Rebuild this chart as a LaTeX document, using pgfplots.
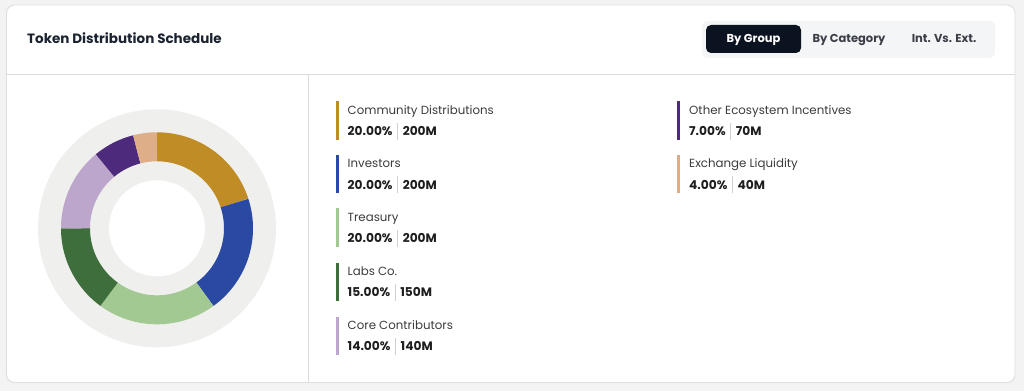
\documentclass[border=0pt]{standalone}
\usepackage{pgfplots}
\usepackage{pgfplotstable}
\pgfplotsset{compat=1.18}
\usepackage{fontspec}
\setmainfont{Poppins}

\definecolor{cgold}{HTML}{BF8C26}
\definecolor{cblue}{HTML}{2A49A3}
\definecolor{clgreen}{HTML}{A3C992}
\definecolor{cdgreen}{HTML}{3D6E3B}
\definecolor{clav}{HTML}{BCA6CB}
\definecolor{cpurple}{HTML}{4E2A7C}
\definecolor{ctan}{HTML}{DDAE87}
\definecolor{cring}{HTML}{EFEFED}
\definecolor{cbg}{HTML}{F3F3F3}
\definecolor{cborder}{HTML}{DEDEDE}
\definecolor{cline}{HTML}{DCDCDC}
\definecolor{ctitle}{HTML}{1B2330}
\definecolor{cname}{HTML}{3C3C3C}
\definecolor{cval}{HTML}{1E1E1E}
\definecolor{ctabbg}{HTML}{F4F5F6}
\definecolor{ctabsel}{HTML}{0B1320}
\definecolor{ctabtxt}{HTML}{3A3F47}
\definecolor{csep}{HTML}{D0D0D0}

\pgfplotstableread{
value col
20 cgold
20 cblue
20 clgreen
15 cdgreen
14 clav
7 cpurple
4 ctan
}\donutdata

\newcommand\legendentry[6]{% x, ypx, color, name, pct, amount
  \fill[#3] (#1-1.5,391-#2+8.5) rectangle (#1+1.5,391-#2-30);
  \node[anchor=base west,inner sep=0pt,text=cname,font=\fontsize{11.8}{13}\selectfont] at (#1+10.5,391-#2-4.2) {#4};
  \node[anchor=base west,inner sep=0pt,text=cval,font=\fontsize{12.2}{14}\selectfont\bfseries] at (#1+10.5,391-#2-21.5-4.4)
    {#5\hspace{4.5pt}\textcolor{csep}{\rule[-4pt]{0.7pt}{17pt}}\hspace{5pt}#6};
}

\begin{document}
\begin{tikzpicture}[x=1pt,y=1pt]
\path[use as bounding box] (0,0) rectangle (1024,391);
\fill[cbg] (0,0) rectangle (1024,391);
\fill[white,draw=cborder,line width=0.9pt,rounded corners=8pt] (6.5,386) rectangle (1015,8.5);
\draw[cline,line width=0.9pt] (6.5,317) -- (1015,317);
\draw[cline,line width=0.9pt] (308,317) -- (308,9);

\node[anchor=base west,inner sep=0pt,text=ctitle,font=\fontsize{13.5}{15}\selectfont\bfseries] at (27,352-4.7) {Token Distribution Schedule};

\fill[ctabbg,rounded corners=6pt] (702,370) rectangle (995,333);
\fill[ctabsel,rounded corners=5pt] (706,366) rectangle (801,338);
\node[anchor=base,inner sep=0pt,text=white,font=\fontsize{11.5}{13}\selectfont\bfseries] at (753.5,352-4) {By Group};
\node[anchor=base,inner sep=0pt,text=ctabtxt,font=\fontsize{11.5}{13}\selectfont\bfseries] at (849,352-4) {By Category};
\node[anchor=base,inner sep=0pt,text=ctabtxt,font=\fontsize{11.5}{13}\selectfont\bfseries] at (944,352-4) {Int. Vs. Ext.};

\legendentry{337}{110}{cgold}{Community Distributions}{20.00\%}{200M}
\legendentry{337}{163.5}{cblue}{Investors}{20.00\%}{200M}
\legendentry{337}{217}{clgreen}{Treasury}{20.00\%}{200M}
\legendentry{337}{271}{cdgreen}{Labs Co.}{15.00\%}{150M}
\legendentry{337}{325}{clav}{Core Contributors}{14.00\%}{140M}
\legendentry{678.5}{110}{cpurple}{Other Ecosystem Incentives}{7.00\%}{70M}
\legendentry{678.5}{163.5}{ctan}{Exchange Liquidity}{4.00\%}{40M}

\begin{axis}[at={(157,162.7)},anchor=center,width=240pt,height=240pt,scale only axis,
  xmin=-120,xmax=120,ymin=-120,ymax=120,hide axis,clip=false]
\addplot[fill=cring,draw=none,domain=0:360,samples=181] ({119*cos(x)},{119*sin(x)}) -- cycle;
\addplot[fill=white,draw=none,domain=0:360,samples=121] ({48*cos(x)},{48*sin(x)}) -- cycle;
\def\cum{0}
\pgfplotsforeachungrouped \i in {0,...,6}{%
  \pgfplotstablegetelem{\i}{value}\of\donutdata \let\v\pgfplotsretval
  \pgfplotstablegetelem{\i}{col}\of\donutdata \let\c\pgfplotsretval
  \pgfmathsetmacro\a{90-3.6*\cum}%
  \pgfmathsetmacro\cum{\cum+\v}%
  \pgfmathsetmacro\b{90-3.6*\cum}%
  \edef\temp{\noexpand\addplot[draw=\c,line width=29pt,line cap=butt,domain=\b:\a,samples=60] ({81.5*cos(x)},{81.5*sin(x)});}%
  \temp
}
\end{axis}
\end{tikzpicture}
\end{document}
